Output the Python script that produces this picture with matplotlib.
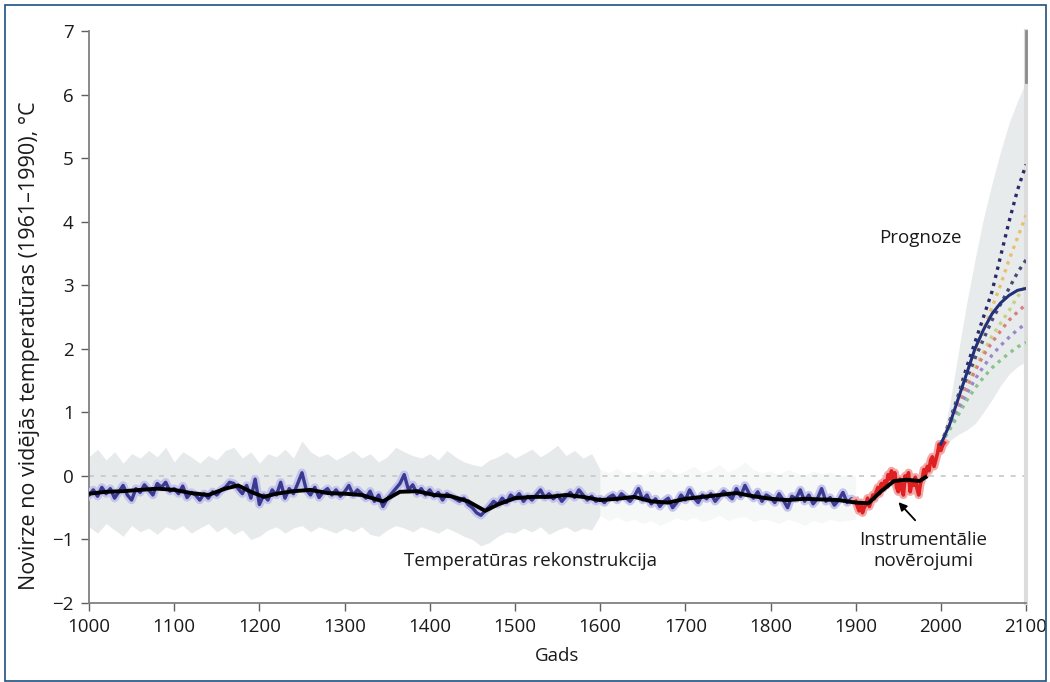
import matplotlib
matplotlib.use("Agg")
import matplotlib.pyplot as plt
import numpy as np
from matplotlib.patches import Rectangle

plt.rcParams['font.family'] = ['Open Sans', 'DejaVu Sans']

# temperaturas rekonstrukcija (ik pa 5 gadiem), 1000-1905
recon_years = list(range(1000, 1910, 5))
recon = [
    -0.30, -0.22, -0.32, -0.18, -0.28, -0.20, -0.35, -0.25, -0.15, -0.30,
    -0.38, -0.20, -0.26, -0.14, -0.22, -0.30, -0.12, -0.18, -0.10, -0.24,
    -0.20, -0.28, -0.16, -0.34, -0.26, -0.30, -0.38, -0.28, -0.35, -0.25,
    -0.30, -0.22, -0.18, -0.10, -0.12, -0.20, -0.28, -0.15, -0.35, -0.05,
    -0.45, -0.30, -0.38, -0.22, -0.30, -0.10, -0.35, -0.20, -0.28, -0.12,
    0.05, -0.22, -0.30, -0.18, -0.34, -0.25, -0.20, -0.30, -0.22, -0.32,
    -0.25, -0.15, -0.30, -0.22, -0.28, -0.35, -0.24, -0.40, -0.30, -0.48,
    -0.36, -0.28, -0.20, -0.12, 0.02, -0.22, -0.14, -0.28, -0.20, -0.30,
    -0.22, -0.32, -0.26, -0.38, -0.28, -0.32, -0.36, -0.40, -0.35, -0.45,
    -0.50, -0.58, -0.62, -0.55, -0.48, -0.40, -0.45, -0.35, -0.42, -0.30,
    -0.36, -0.28, -0.40, -0.32, -0.38, -0.30, -0.22, -0.34, -0.28, -0.36,
    -0.30, -0.40, -0.32, -0.26, -0.34, -0.22, -0.30, -0.38, -0.32, -0.40,
    -0.36, -0.42, -0.34, -0.30, -0.38, -0.28, -0.34, -0.40, -0.32, -0.20,
    -0.38, -0.30, -0.44, -0.36, -0.48, -0.40, -0.35, -0.50, -0.42, -0.30,
    -0.38, -0.22, -0.34, -0.42, -0.30, -0.36, -0.28, -0.40, -0.32, -0.24,
    -0.30, -0.36, -0.20, -0.32, -0.15, -0.28, -0.35, -0.25, -0.40, -0.30,
    -0.34, -0.42, -0.28, -0.38, -0.50, -0.32, -0.36, -0.22, -0.40, -0.30,
    -0.44, -0.36, -0.20, -0.40, -0.34, -0.46, -0.38, -0.26, -0.42, -0.36,
    -0.40, -0.45,
]

# nenoteiktibas josla (ik pa 10 gadiem)
band_years = list(range(1000, 1910, 10))
band_hi = [
    0.30, 0.42, 0.25, 0.38, 0.20, 0.35, 0.28, 0.40, 0.30, 0.45,
    0.22, 0.38, 0.30, 0.20, 0.32, 0.25, 0.40, 0.45, 0.28, 0.38,
    0.20, 0.35, 0.30, 0.42, 0.28, 0.55, 0.38, 0.30, 0.35, 0.25,
    0.32, 0.40, 0.28, 0.35, 0.22, 0.30, 0.45, 0.38, 0.32, 0.28,
    0.35, 0.25, 0.40, 0.30, 0.22, 0.18, 0.15, 0.25, 0.30, 0.38,
    0.28, 0.35, 0.42, 0.30, 0.38, 0.48, 0.32, 0.40, 0.28, 0.35,
    0.10, 0.05, 0.12, 0.02, 0.08, 0.00, 0.10, 0.05, 0.12, 0.03,
    0.08, 0.15, 0.05, 0.10, 0.18, 0.06, 0.12, 0.22, 0.10, 0.05,
    0.08, 0.02, 0.10, 0.05, 0.00, 0.08, 0.03, 0.06, 0.00, 0.02,
    0.00,
]
band_lo = [
    -0.80, -0.90, -0.75, -0.85, -0.95, -0.78, -0.88, -0.82, -0.92, -0.80,
    -0.85, -0.78, -0.90, -0.82, -0.75, -0.88, -0.80, -0.92, -0.85, -1.00,
    -0.95, -0.85, -0.80, -0.90, -0.82, -0.78, -0.88, -0.80, -0.85, -0.90,
    -0.82, -0.88, -0.80, -0.92, -0.95, -0.85, -0.78, -0.82, -0.88, -0.80,
    -0.85, -0.90, -0.82, -0.88, -0.95, -1.00, -1.10, -1.05, -0.95, -0.88,
    -0.90, -0.82, -0.88, -0.80, -0.92, -0.85, -0.80, -0.88, -0.82, -0.85,
    -0.62, -0.70, -0.65, -0.72, -0.68, -0.75, -0.70, -0.78, -0.72, -0.66,
    -0.70, -0.65, -0.72, -0.68, -0.62, -0.70, -0.66, -0.64, -0.72, -0.68,
    -0.70, -0.75, -0.68, -0.72, -0.78, -0.70, -0.74, -0.68, -0.72, -0.70,
    -0.68,
]

# izlidzinata likne
smooth_years = [1000, 1020, 1040, 1060, 1080, 1100, 1120, 1140, 1160, 1175,
                1190, 1205, 1220, 1240, 1260, 1280, 1300, 1320, 1345, 1365,
                1385, 1405, 1425, 1445, 1465, 1480, 1500, 1520, 1540, 1560,
                1580, 1600, 1620, 1640, 1660, 1680, 1700, 1720, 1740, 1760,
                1780, 1800, 1820, 1840, 1860, 1880, 1900, 1915, 1930, 1945,
                1960, 1975, 1982]
smooth = [-0.28, -0.25, -0.24, -0.22, -0.20, -0.22, -0.27, -0.30, -0.20, -0.15,
          -0.25, -0.33, -0.28, -0.24, -0.22, -0.27, -0.28, -0.30, -0.40, -0.25,
          -0.24, -0.30, -0.32, -0.40, -0.55, -0.45, -0.35, -0.33, -0.33, -0.30,
          -0.33, -0.38, -0.36, -0.33, -0.40, -0.42, -0.36, -0.33, -0.30, -0.27,
          -0.32, -0.36, -0.38, -0.36, -0.37, -0.38, -0.42, -0.43, -0.24, -0.08,
          -0.06, -0.08, -0.02]

# instrumentalie noverojumi
instr_years = list(range(1900, 2006, 2))
instr = [-0.40, -0.48, -0.55, -0.42, -0.58, -0.50, -0.45, -0.35, -0.48, -0.40,
         -0.30, -0.36, -0.25, -0.18, -0.28, -0.12, -0.20, -0.08, -0.15, 0.02,
         -0.05, 0.08, -0.10, 0.05, -0.18, -0.25, -0.05, -0.20, -0.30, 0.00,
         -0.08, 0.05, -0.25, -0.10, -0.15, -0.02, -0.20, -0.30, -0.12, -0.05,
         0.10, 0.02, 0.15, 0.08, 0.25, 0.30, 0.15, 0.25, 0.35, 0.50,
         0.40, 0.48, 0.52]

# prognozes
proj_years = list(range(2000, 2110, 10))
proj_hi = [0.50, 1.10, 1.90, 2.70, 3.40, 4.05, 4.60, 5.10, 5.55, 5.90, 6.20]
proj_lo = [0.45, 0.55, 0.65, 0.72, 0.82, 1.00, 1.20, 1.42, 1.60, 1.72, 1.80]
proj_mean = [0.50, 0.80, 1.20, 1.60, 2.00, 2.30, 2.55, 2.72, 2.84, 2.92, 2.95]
scen_a = [0.50, 0.85, 1.25, 1.70, 2.10, 2.50, 2.90, 3.45, 4.00, 4.50, 4.90]
scen_b = [0.50, 0.82, 1.20, 1.60, 1.95, 2.30, 2.65, 3.00, 3.40, 3.75, 4.10]
scen_c = [0.50, 0.80, 1.15, 1.50, 1.85, 2.15, 2.45, 2.70, 2.95, 3.20, 3.40]
scen_d = [0.50, 0.78, 1.10, 1.40, 1.70, 1.95, 2.20, 2.40, 2.60, 2.82, 3.00]
scen_e = [0.50, 0.78, 1.08, 1.38, 1.65, 1.90, 2.10, 2.28, 2.45, 2.58, 2.70]
scen_f = [0.50, 0.75, 1.02, 1.28, 1.52, 1.72, 1.90, 2.05, 2.18, 2.30, 2.40]
scen_g = [0.50, 0.72, 0.95, 1.18, 1.38, 1.55, 1.70, 1.82, 1.93, 2.03, 2.10]
scen_colors = ['#2a2a68', '#e8c070', '#4a4a78', '#c8d080', '#d88080', '#9a88cc', '#88c488']

fig = plt.figure(figsize=(10.5, 6.82), dpi=100)
ax = fig.add_axes([0.0848, 0.1158, 0.8924, 0.8387])

# josla
n6 = band_years.index(1600)
ax.fill_between(band_years[:n6 + 1], band_lo[:n6 + 1], band_hi[:n6 + 1],
                color='#e6eaea', lw=0, zorder=1)
ax.fill_between(band_years[n6:], band_lo[n6:], band_hi[n6:],
                color='#f6f7f7', lw=0, zorder=1)
ax.fill_between(proj_years, proj_lo, proj_hi, color='#e8ebec', lw=0, zorder=1)

# nulles linija
ax.plot([1000, 2100], [0, 0], color='#c4c8cc', lw=1.2, ls=(0, (3, 4)), zorder=2)

ax.plot(recon_years, recon, color='#c4c4ec', lw=6, zorder=3)
ax.plot(recon_years, recon, color='#3a3a90', lw=2.4, zorder=4)
ax.plot(instr_years, instr, color='#f2a8a8', lw=6, zorder=5)
ax.plot(instr_years, instr, color='#e02020', lw=2.6, zorder=6)
ax.plot(smooth_years, smooth, color='black', lw=2.8, zorder=7)

for s, c in zip([scen_a, scen_b, scen_c, scen_d, scen_e, scen_f, scen_g], scen_colors):
    ax.plot(proj_years, s, color=c, lw=2.4, ls=(0, (1, 1.5)), zorder=5)
ax.plot(proj_years, proj_mean, color='#22307a', lw=2.2, zorder=6)

# vertikala josla 2100
ax.plot([2100, 2100], [-2, 7], color='#dcdcdc', lw=3, zorder=2, clip_on=False)
ax.plot([2100, 2100], [6.2, 7], color='#8c8c8c', lw=2, zorder=3, clip_on=False)

ax.set_xlim(1000, 2100)
ax.set_ylim(-2, 7)
ax.set_xticks(range(1000, 2101, 100))
ax.set_yticks(range(-2, 8))
for sp in ['top', 'right']:
    ax.spines[sp].set_visible(False)
for sp in ['left', 'bottom']:
    ax.spines[sp].set_color('#808080')
    ax.spines[sp].set_linewidth(1.3)
ax.tick_params(direction='out', length=6, width=1, color='#606060',
               labelsize=13.5, labelcolor='#1a1a1a', pad=5)
ax.set_xlabel('Gads', fontsize=13.5, color='#1a1a1a', labelpad=8)
ax.set_ylabel('Novirze no vidējās temperatūras (1961–1990), °C', fontsize=15.5,
              color='#1a1a1a')
ax.yaxis.set_label_coords(-0.052, 0.45)

ax.text(1976, 3.74, 'Prognoze', fontsize=13.5, ha='center', va='center', color='#1a1a1a')
ax.text(1518, -1.34, 'Temperatūras rekonstrukcija', fontsize=13.5, ha='center',
        va='center', color='#1a1a1a')
ax.text(1979, -1.17, 'Instrumentālie\nnovērojumi', fontsize=13.5, ha='center',
        va='center', color='#1a1a1a', linespacing=1.25)
ax.annotate('', xy=(1948, -0.38), xytext=(1972, -0.73),
            arrowprops=dict(arrowstyle='-|>', color='black', lw=1.3, mutation_scale=12))

fig.patches.append(Rectangle((5 / 1050, 1 / 682), 1041 / 1050, 676 / 682,
                             transform=fig.transFigure, fill=False,
                             edgecolor='#1f5080', lw=1.2))

fig.savefig('out.png', dpi=100)
